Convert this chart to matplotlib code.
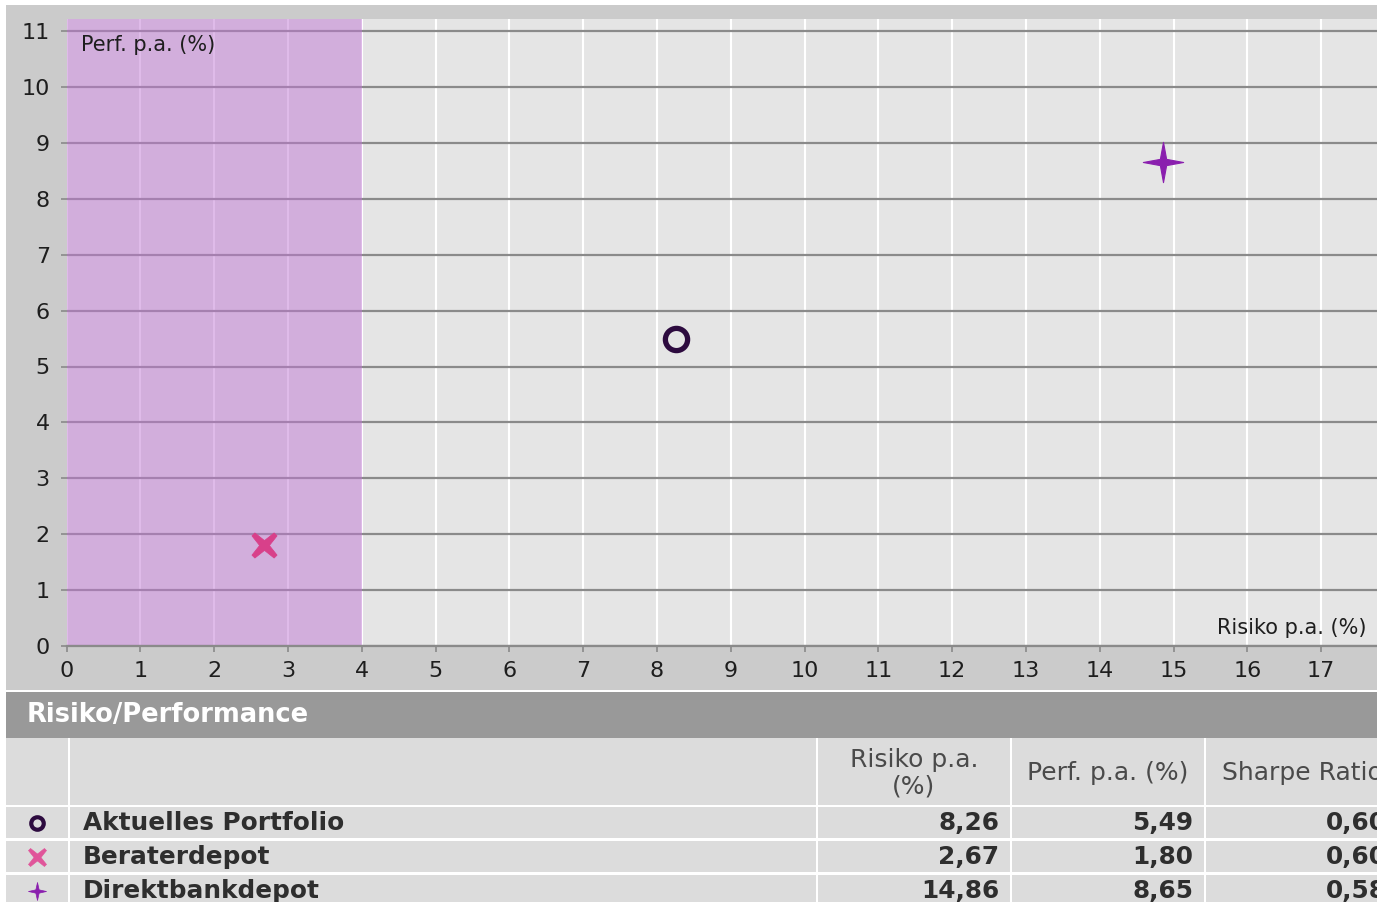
import matplotlib
matplotlib.use('Agg')
import matplotlib.pyplot as plt
from matplotlib.patches import Rectangle
from matplotlib.path import Path
import numpy as np

# ---------------- data ----------------
names = ["Aktuelles Portfolio", "Beraterdepot", "Direktbankdepot"]
risk = [8.26, 2.67, 14.86]
perf = [5.49, 1.80, 8.65]
sharpe = ["0,60", "0,60", "0,58"]
x_ticks = list(range(0, 18))
y_ticks = list(range(0, 12))
band = (0, 4)
title = "Risiko/Performance"
col_headers = ["Risiko p.a.\n(%)", "Perf. p.a. (%)", "Sharpe Ratio"]
xlabel = "Risiko p.a. (%)"
ylabel = "Perf. p.a. (%)"

# ---------------- styles ----------------
W, H = 1377, 902
PANEL = '#cbcbcb'
PLOTBG = '#e5e5e5'
TABLEBG = '#dcdcdc'
HEADER = '#999999'


def fx(x):
    return x / W


def fy(y):
    return 1 - y / H


fig = plt.figure(figsize=(W / 100, H / 100), dpi=100)
fig.patch.set_facecolor('white')


def rect(x0, y0, x1, y1, color, z=0):
    fig.add_artist(Rectangle((fx(x0), fy(y1)), fx(x1) - fx(x0), fy(y0) - fy(y1),
                             transform=fig.transFigure, facecolor=color,
                             edgecolor='none', zorder=z))


def star4(inner=0.15, angle=0.0):
    k = np.arange(8)
    t = k * np.pi / 4 + np.pi / 2 + np.deg2rad(angle)
    r = np.where(k % 2 == 0, 1.0, inner)
    v = np.column_stack([r * np.cos(t), r * np.sin(t)])
    v = np.vstack([v, v[0]])
    codes = [Path.MOVETO] + [Path.LINETO] * 7 + [Path.CLOSEPOLY]
    return Path(v, codes)


def cross(w=0.22, wt=0.14, angle=45.0):
    # plus-shaped polygon with slightly tapered arms, rotated
    arm = np.array([[-wt, 1.0], [wt, 1.0], [w, w]])
    pts = []
    for q in range(4):
        a = -q * np.pi / 2
        R = np.array([[np.cos(a), -np.sin(a)], [np.sin(a), np.cos(a)]])
        pts.append(arm @ R.T)
    v = np.vstack(pts)
    a = np.deg2rad(angle)
    R = np.array([[np.cos(a), -np.sin(a)], [np.sin(a), np.cos(a)]])
    v = v @ R.T
    v = np.vstack([v, v[0]])
    codes = [Path.MOVETO] + [Path.LINETO] * (len(v) - 2) + [Path.CLOSEPOLY]
    return Path(v, codes)


styles = [
    dict(marker='o', mfc='none', mec='#2d0b3f', mew=3.8, ms=16, lw=0),
    dict(marker=cross(0.22, 0.13), mfc='#d8408a', mec='#d8408a', mew=0.6, ms=18, lw=0),
    dict(marker=star4(0.22, 0), mfc='#8a1fae', mec='#8a1fae', mew=0.8, ms=29, lw=0),
]
legend_styles = [
    dict(marker='o', mfc='none', mec='#2d0b3f', mew=3.0, ms=9, lw=0),
    dict(marker=cross(0.22, 0.13), mfc='#e0559a', mec='#e0559a', mew=0.4, ms=13, lw=0),
    dict(marker=star4(0.26, 0), mfc='#8a1fae', mec='#8a1fae', mew=0.5, ms=13, lw=0),
]

# background panels
rect(6, 5, W, 690, PANEL, z=0)
rect(6, 692, W, 738, HEADER, z=0)
rect(6, 738, W, H, TABLEBG, z=0)

# ---------------- chart ----------------
x0p, x1p, y0p, y1p = 66.5, W, 19, 646
ax = fig.add_axes([fx(x0p), fy(y1p), fx(x1p) - fx(x0p), fy(y0p) - fy(y1p)])
ax.set_facecolor(PLOTBG)
ppx = 73.8
ppy = 55.9
ax.set_xlim(0, (x1p - x0p) / ppx)
ax.set_ylim(0, (y1p - y0p) / ppy)
ax.set_xticks(x_ticks)
ax.set_yticks(y_ticks)
ax.set_axisbelow(True)
ax.xaxis.grid(True, color='white', lw=1.5)
ax.yaxis.grid(True, color='#8a8a8a', lw=1.6)
for s in ['top', 'right', 'left']:
    ax.spines[s].set_visible(False)
ax.spines['bottom'].set_color('#8a8a8a')
ax.spines['bottom'].set_linewidth(1.6)
ax.tick_params(axis='both', colors='#8a8a8a', length=4, width=1.2,
               labelcolor='#1e1e1e', labelsize=16)
ax.tick_params(axis='x', pad=7)
ax.tick_params(axis='y', pad=8)

ax.axvspan(band[0], band[1], color='#c078d4', alpha=0.5, lw=0, zorder=1)

for xv, yv, st in zip(risk, perf, styles):
    ax.plot([xv], [yv], zorder=4, **st)

ax.text(0.011, 0.974, ylabel, transform=ax.transAxes, ha='left', va='top',
        fontsize=15, color='#1e1e1e')
ax.text(0.992, 0.013, xlabel, transform=ax.transAxes, ha='right', va='bottom',
        fontsize=15, color='#1e1e1e')

# ---------------- table ----------------
fig.text(fx(27), fy(715), title, ha='left', va='center', fontsize=18.5,
         fontweight='bold', color='white')

# white separators
for yl in [806, 839.5, 873.5]:
    rect(6, yl - 1.2, W, yl + 1.2, 'white', z=1)
for xl in [69, 817, 1011, 1205]:
    rect(xl - 1.3, 738, xl + 1.3, H, 'white', z=1)

fig.text(fx(914), fy(773), col_headers[0], ha='center', va='center', fontsize=18,
         color='#4a4a4a', linespacing=1.15)
fig.text(fx(1108), fy(773), col_headers[1], ha='center', va='center', fontsize=18,
         color='#4a4a4a')
fig.text(fx(1222), fy(773), col_headers[2], ha='left', va='center', fontsize=18,
         color='#4a4a4a')

row_y = [823, 857, 891]
lax = fig.add_axes([0, 0, 1, 1], facecolor='none')
lax.set_xlim(0, W)
lax.set_ylim(H, 0)
lax.axis('off')
for i, yy in enumerate(row_y):
    lax.plot([37], [yy], zorder=5, **legend_styles[i])
    fig.text(fx(83), fy(yy), names[i], ha='left', va='center', fontsize=17.8,
             fontweight='bold', color='#2e2e2e')
    fig.text(fx(999), fy(yy), f"{risk[i]:.2f}".replace('.', ','), ha='right',
             va='center', fontsize=17.8, fontweight='bold', color='#2e2e2e')
    fig.text(fx(1193), fy(yy), f"{perf[i]:.2f}".replace('.', ','), ha='right',
             va='center', fontsize=17.8, fontweight='bold', color='#2e2e2e')
    fig.text(fx(1387), fy(yy), sharpe[i], ha='right', va='center', fontsize=17.8,
             fontweight='bold', color='#2e2e2e')

fig.savefig('out.png', dpi=100, facecolor=fig.get_facecolor())
